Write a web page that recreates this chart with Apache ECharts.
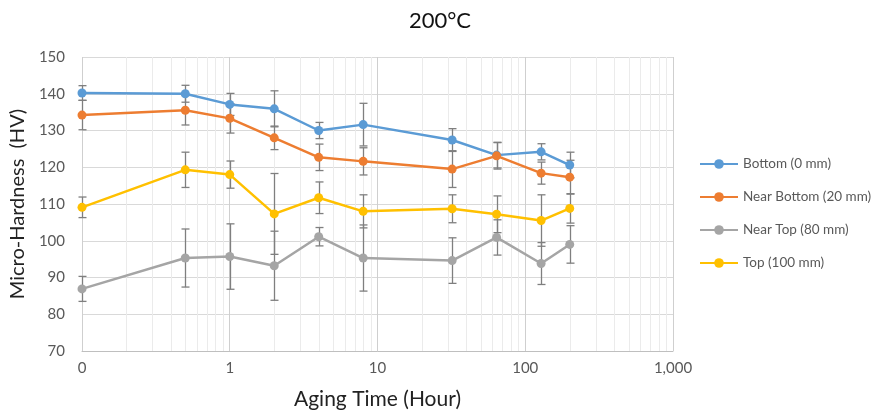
<!DOCTYPE html>
<html><head><meta charset="utf-8">
<script src="https://cdn.jsdelivr.net/npm/echarts@6/dist/echarts.min.js"></script>
<style>html,body{margin:0;padding:0;background:#fff}#c{width:880px;height:416px}</style>
</head><body><div id="c"></div>
<script>
const times = [0.1, 0.5, 1, 2, 4, 8, 32, 64, 128, 200];
const bottom = [140.2, 140.0, 137.1, 135.9, 130.0, 131.6, 127.4, 123.3, 124.2, 120.6];
const bottomErr = [2.0, 2.3, 3.0, 4.9, 2.2, 5.8, 3.1, 3.5, 2.2, 3.5];
const nearBottom = [134.2, 135.5, 133.3, 128.0, 122.7, 121.6, 119.5, 123.1, 118.4, 117.3];
const nearBottomErr = [4.0, 4.0, 4.0, 3.2, 3.6, 3.7, 5.0, 3.6, 3.0, 4.6];
const nearTop = [86.9, 95.3, 95.7, 93.2, 101.1, 95.3, 94.6, 100.9, 93.8, 99.0];
const nearTopErr = [3.4, 7.9, 8.9, 9.4, 2.5, 9.0, 6.2, 4.8, 5.7, 5.1];
const topS = [109.1, 119.3, 118.0, 107.3, 111.7, 108.0, 108.7, 107.2, 105.5, 108.8];
const topErr = [2.8, 4.8, 3.7, 11.0, 4.3, 4.5, 3.8, 5.0, 7.0, 4.0];
const seriesNames = ['Bottom (0 mm)', 'Near Bottom (20 mm)', 'Near Top (80 mm)', 'Top (100 mm)'];
const xTickValues = [0.1, 1, 10, 100, 1000];
const xTickLabels = ['0', '1', '10', '100', '1,000'];
const yTicks = [70, 80, 90, 100, 110, 120, 130, 140, 150];

const FONT = 'Lato, "Open Sans", sans-serif';
const colors = ['#5B9BD5', '#ED7D31', '#A5A5A5', '#FFC000'];
const values = [bottom, nearBottom, nearTop, topS];
const errs = [bottomErr, nearBottomErr, nearTopErr, topErr];

// minor log grid positions (2..9 per decade)
const minorGrid = [];
for (let d = 0.1; d < 1000; d *= 10) {
  for (let k = 2; k <= 9; k++) minorGrid.push(+(d * k).toPrecision(3));
}

const chart = echarts.init(document.getElementById('c'));
const series = [];

series.push({
  type: 'custom', silent: true, z: 0,
  data: minorGrid.map(v => [v]),
  encode: { x: 0 },
  renderItem: (params, api) => {
    const p1 = api.coord([api.value(0), yTicks[yTicks.length - 1]]);
    const p2 = api.coord([api.value(0), yTicks[0]]);
    return { type: 'line', shape: { x1: Math.round(p1[0]) + 0.5, y1: p1[1], x2: Math.round(p2[0]) + 0.5, y2: p2[1] },
      style: { stroke: '#ebebeb', lineWidth: 1 } };
  }
});

values.forEach((vals, i) => {
  series.push({
    type: 'custom', name: seriesNames[i] + ' err', z: 1, silent: true,
    data: times.map((t, j) => [t, vals[j] - errs[i][j], vals[j] + errs[i][j]]),
    encode: { x: 0, y: [1, 2] },
    renderItem: (params, api) => {
      const lo = api.coord([api.value(0), api.value(1)]);
      const hi = api.coord([api.value(0), api.value(2)]);
      const x = Math.round(lo[0]) + 0.5;
      const w = 4;
      const st = { stroke: '#7f7f7f', lineWidth: 1.3 };
      return { type: 'group', children: [
        { type: 'line', shape: { x1: x, y1: lo[1], x2: x, y2: hi[1] }, style: st },
        { type: 'line', shape: { x1: x - w, y1: lo[1], x2: x + w, y2: lo[1] }, style: st },
        { type: 'line', shape: { x1: x - w, y1: hi[1], x2: x + w, y2: hi[1] }, style: st }
      ] };
    }
  });
});

values.forEach((vals, i) => {
  series.push({
    type: 'line', name: seriesNames[i], z: 3,
    data: times.map((t, j) => [t, vals[j]]),
    symbol: 'circle', symbolSize: 9,
    lineStyle: { width: 2.5, color: colors[i] },
    itemStyle: { color: colors[i] },
    emphasis: { disabled: true }
  });
});

chart.setOption({
  animation: false,
  color: colors,
  textStyle: { fontFamily: FONT },
  title: { text: '200°C', left: 'center', top: 5,
    textStyle: { fontFamily: FONT, fontSize: 22, fontWeight: 'normal', color: '#111' } },
  legend: {
    orient: 'vertical', left: 694, top: 152, itemGap: 19,
    itemWidth: 38, itemHeight: 12,
    data: seriesNames,
    textStyle: { fontFamily: FONT, fontSize: 13.5, color: '#595959' }
  },
  grid: { left: 80, right: 207, top: 57, bottom: 65 },
  xAxis: {
    type: 'log', logBase: 10, min: xTickValues[0], max: xTickValues[xTickValues.length - 1],
    name: 'Aging Time (Hour)', nameLocation: 'middle', nameGap: 38,
    nameTextStyle: { fontFamily: FONT, fontSize: 21, color: '#222' },
    axisLine: { show: true, lineStyle: { color: '#bfbfbf', width: 1 } },
    axisTick: { show: false },
    axisLabel: { fontFamily: FONT, fontSize: 15, color: '#595959', margin: 10,
      formatter: v => { const idx = xTickValues.findIndex(t => Math.abs(Math.log10(t) - Math.log10(v)) < 1e-6); return idx >= 0 ? xTickLabels[idx] : ''; } },
    splitLine: { show: true, lineStyle: { color: '#cfcfcf', width: 1 } }
  },
  yAxis: {
    type: 'value', min: yTicks[0], max: yTicks[yTicks.length - 1], interval: 10,
    name: 'Micro-Hardness  (HV)', nameLocation: 'middle', nameGap: 48,
    nameTextStyle: { fontFamily: FONT, fontSize: 20, color: '#222' },
    axisLine: { show: false }, axisTick: { show: false },
    axisLabel: { fontFamily: FONT, fontSize: 15, color: '#595959', margin: 17 },
    splitLine: { show: true, lineStyle: { color: '#d9d9d9', width: 1 } }
  },
  series: series
});
</script></body></html>
